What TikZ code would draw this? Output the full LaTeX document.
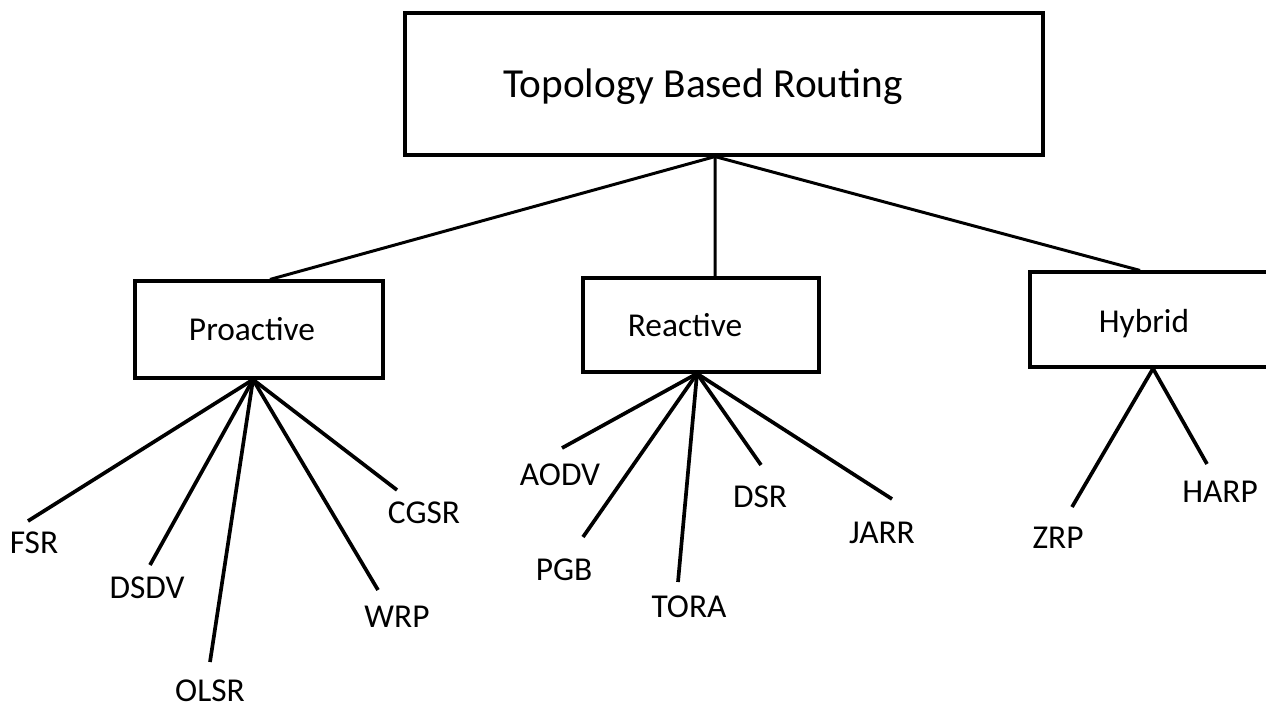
\documentclass[tikz,border=0pt]{standalone}
\usepackage{fontspec}
\setmainfont{Carlito}
\usepackage{tikz}

\tikzset{
    box/.style={draw, rectangle, line width=1.8pt, inner sep=0pt},
    lbl/.style={anchor=base, inner sep=0pt, font=\fontsize{19}{22}\selectfont},
    link/.style={line width=1.7pt},
    leaf/.style={line width=2.1pt}
}

\begin{document}
\begin{tikzpicture}[x=0.02cm, y=-0.02cm]
        \useasboundingbox (0,0) rectangle (1266,707);
        \clip (0,0) rectangle (1266,707);

        %boxes
        \node[box, minimum width=12.76cm, minimum height=2.84cm] (TBR) at (724,84) {};
        \node[box, minimum width=4.96cm, minimum height=1.94cm] (Pro) at (259,329.5) {};
        \node[box, minimum width=4.72cm, minimum height=1.88cm] (Rea) at (701,325) {};
        \node[box, minimum width=5cm, minimum height=1.9cm] (Hyb) at (1155,319.5) {};

        %box texts
        \node[lbl, font=\fontsize{23.5}{28}\selectfont] (TBRtext) at (703,97) {Topology Based Routing};
        \node[lbl] (Protext) at (252,340) {Proactive};
        \node[lbl] (Reatext) at (685,336) {Reactive};
        \node[lbl] (Hybtext) at (1144,332) {Hybrid};

        %leaves
        \node[lbl] (FSR)  at (34,553)  {FSR};
        \node[lbl] (DSDV) at (147,598) {DSDV};
        \node[lbl] (OLSR) at (210,701) {OLSR};
        \node[lbl] (WRP)  at (397,627) {WRP};
        \node[lbl] (CGSR) at (424,523) {CGSR};

        \node[lbl] (AODV) at (560,485) {AODV};
        \node[lbl] (PGB)  at (564,580) {PGB};
        \node[lbl] (TORA) at (689,617) {TORA};
        \node[lbl] (DSR)  at (760,507) {DSR};
        \node[lbl] (JARR) at (882,543) {JARR};

        \node[lbl] (ZRP)  at (1058,548) {ZRP};
        \node[lbl] (HARP) at (1220,502) {HARP};

        %line ends
        \coordinate (FSRend)  at (28,521);
        \coordinate (DSDVend) at (150,565);
        \coordinate (OLSRend) at (210,662);
        \coordinate (WRPend)  at (378,590);
        \coordinate (CGSRend) at (397,490);

        \coordinate (AODVend) at (562,448);
        \coordinate (PGBend)  at (583,537);
        \coordinate (TORAend) at (678,582);
        \coordinate (DSRend)  at (761,465);
        \coordinate (JARRend) at (892,499);

        \coordinate (ZRPend)  at (1072,507);
        \coordinate (HARPend) at (1207,464);

        %edges
        \draw[link] ([xshift=-0.18cm]TBR.south) -- ([xshift=0.22cm]Pro.north);
        \draw[link] ([xshift=-0.18cm]TBR.south) -- ([xshift=0.28cm]Rea.north);
        \draw[link] ([xshift=-0.18cm]TBR.south) -- ([xshift=-0.3cm]Hyb.north);

        \draw[leaf] ([xshift=-0.12cm]Pro.south) -- (FSRend);
        \draw[leaf] ([xshift=-0.12cm]Pro.south) -- (DSDVend);
        \draw[leaf] ([xshift=-0.12cm]Pro.south) -- (OLSRend);
        \draw[leaf] ([xshift=-0.12cm]Pro.south) -- (WRPend);
        \draw[leaf] ([xshift=-0.12cm]Pro.south) -- (CGSRend);

        \draw[leaf] ([xshift=-0.08cm]Rea.south) -- (AODVend);
        \draw[leaf] ([xshift=-0.08cm]Rea.south) -- (PGBend);
        \draw[leaf] ([xshift=-0.08cm]Rea.south) -- (TORAend);
        \draw[leaf] ([xshift=-0.08cm]Rea.south) -- (DSRend);
        \draw[leaf] ([xshift=-0.08cm]Rea.south) -- (JARRend);

        \draw[leaf] ([xshift=-0.04cm]Hyb.south) -- (ZRPend);
        \draw[leaf] ([xshift=-0.04cm]Hyb.south) -- (HARPend);
\end{tikzpicture}
\end{document}
